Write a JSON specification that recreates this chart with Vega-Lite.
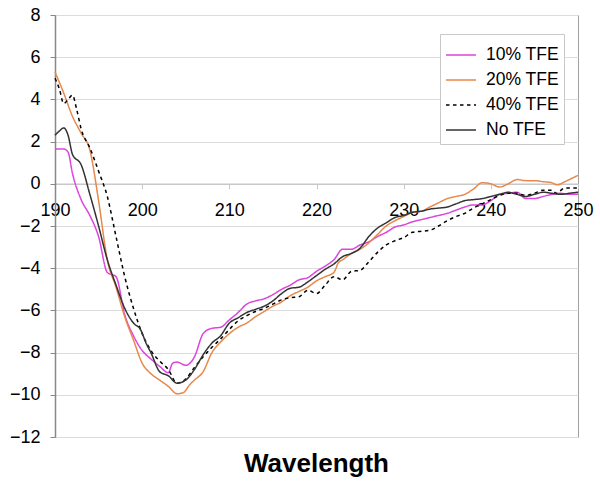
{
  "$schema": "https://vega.github.io/schema/vega-lite/v6.json",
  "width": 523,
  "height": 422,
  "autosize": {"type": "none"},
  "padding": {"left": 55, "top": 15, "right": 22, "bottom": 46},
  "background": "white",
  "config": {
    "font": "Liberation Sans",
    "view": {"stroke": "#a0a0a0", "strokeWidth": 1}
  },
  "title": {"text": "Wavelength", "orient": "bottom", "anchor": "middle", "fontSize": 26, "fontWeight": "bold", "color": "black", "offset": 5, "font": "Liberation Sans"},
  "datasets": {
    "d": [
      {"series": "10% TFE", "w": 190, "v": 1.65}, {"series": "10% TFE", "w": 191, "v": 1.65}, {"series": "10% TFE", "w": 191.5, "v": 1.5}, {"series": "10% TFE", "w": 192, "v": 0.5}, {"series": "10% TFE", "w": 193, "v": -0.75}, {"series": "10% TFE", "w": 194, "v": -1.5}, {"series": "10% TFE", "w": 195, "v": -2.5}, {"series": "10% TFE", "w": 196, "v": -4.2}, {"series": "10% TFE", "w": 197, "v": -4.4}, {"series": "10% TFE", "w": 198, "v": -6.2}, {"series": "10% TFE", "w": 199, "v": -7.2}, {"series": "10% TFE", "w": 200, "v": -7.9}, {"series": "10% TFE", "w": 201, "v": -8.3}, {"series": "10% TFE", "w": 202, "v": -8.65}, {"series": "10% TFE", "w": 203, "v": -8.95}, {"series": "10% TFE", "w": 203.5, "v": -8.5}, {"series": "10% TFE", "w": 204, "v": -8.45}, {"series": "10% TFE", "w": 205, "v": -8.6}, {"series": "10% TFE", "w": 206, "v": -8.2}, {"series": "10% TFE", "w": 207, "v": -7.1}, {"series": "10% TFE", "w": 208, "v": -6.85}, {"series": "10% TFE", "w": 209, "v": -6.8}, {"series": "10% TFE", "w": 210, "v": -6.45}, {"series": "10% TFE", "w": 211, "v": -6.1}, {"series": "10% TFE", "w": 212, "v": -5.7}, {"series": "10% TFE", "w": 213, "v": -5.55}, {"series": "10% TFE", "w": 214, "v": -5.45}, {"series": "10% TFE", "w": 215, "v": -5.25}, {"series": "10% TFE", "w": 216, "v": -5.0}, {"series": "10% TFE", "w": 217, "v": -4.8}, {"series": "10% TFE", "w": 218, "v": -4.55}, {"series": "10% TFE", "w": 219, "v": -4.45}, {"series": "10% TFE", "w": 220, "v": -4.15}, {"series": "10% TFE", "w": 221, "v": -3.9}, {"series": "10% TFE", "w": 222, "v": -3.6}, {"series": "10% TFE", "w": 223, "v": -3.1}, {"series": "10% TFE", "w": 224, "v": -3.1}, {"series": "10% TFE", "w": 225, "v": -2.9}, {"series": "10% TFE", "w": 226, "v": -2.75}, {"series": "10% TFE", "w": 227, "v": -2.5}, {"series": "10% TFE", "w": 228, "v": -2.3}, {"series": "10% TFE", "w": 229, "v": -2.05}, {"series": "10% TFE", "w": 230, "v": -1.95}, {"series": "10% TFE", "w": 231, "v": -1.8}, {"series": "10% TFE", "w": 232, "v": -1.7}, {"series": "10% TFE", "w": 233, "v": -1.6}, {"series": "10% TFE", "w": 234, "v": -1.5}, {"series": "10% TFE", "w": 235, "v": -1.4}, {"series": "10% TFE", "w": 236, "v": -1.25}, {"series": "10% TFE", "w": 237, "v": -1.1}, {"series": "10% TFE", "w": 238, "v": -1.0}, {"series": "10% TFE", "w": 239, "v": -1.0}, {"series": "10% TFE", "w": 240, "v": -0.8}, {"series": "10% TFE", "w": 241, "v": -0.5}, {"series": "10% TFE", "w": 242, "v": -0.45}, {"series": "10% TFE", "w": 243, "v": -0.4}, {"series": "10% TFE", "w": 244, "v": -0.7}, {"series": "10% TFE", "w": 245, "v": -0.7}, {"series": "10% TFE", "w": 246, "v": -0.6}, {"series": "10% TFE", "w": 247, "v": -0.5}, {"series": "10% TFE", "w": 248, "v": -0.45}, {"series": "10% TFE", "w": 249, "v": -0.5}, {"series": "10% TFE", "w": 250, "v": -0.5},

      {"series": "20% TFE", "w": 190, "v": 5.3}, {"series": "20% TFE", "w": 191, "v": 4.3}, {"series": "20% TFE", "w": 192, "v": 3.2}, {"series": "20% TFE", "w": 193, "v": 2.4}, {"series": "20% TFE", "w": 194, "v": 1.6}, {"series": "20% TFE", "w": 195, "v": -0.8}, {"series": "20% TFE", "w": 196, "v": -3.6}, {"series": "20% TFE", "w": 197, "v": -4.9}, {"series": "20% TFE", "w": 198, "v": -6.3}, {"series": "20% TFE", "w": 199, "v": -7.4}, {"series": "20% TFE", "w": 200, "v": -8.5}, {"series": "20% TFE", "w": 201, "v": -9.0}, {"series": "20% TFE", "w": 202, "v": -9.3}, {"series": "20% TFE", "w": 203, "v": -9.6}, {"series": "20% TFE", "w": 204, "v": -9.95}, {"series": "20% TFE", "w": 204.7, "v": -9.9}, {"series": "20% TFE", "w": 205.5, "v": -9.5}, {"series": "20% TFE", "w": 206, "v": -9.3}, {"series": "20% TFE", "w": 207, "v": -8.9}, {"series": "20% TFE", "w": 208, "v": -8.0}, {"series": "20% TFE", "w": 209, "v": -7.5}, {"series": "20% TFE", "w": 210, "v": -7.1}, {"series": "20% TFE", "w": 211, "v": -6.8}, {"series": "20% TFE", "w": 212, "v": -6.6}, {"series": "20% TFE", "w": 213, "v": -6.3}, {"series": "20% TFE", "w": 214, "v": -6.05}, {"series": "20% TFE", "w": 215, "v": -5.8}, {"series": "20% TFE", "w": 216, "v": -5.6}, {"series": "20% TFE", "w": 217, "v": -5.3}, {"series": "20% TFE", "w": 218, "v": -5.1}, {"series": "20% TFE", "w": 219, "v": -4.9}, {"series": "20% TFE", "w": 220, "v": -4.6}, {"series": "20% TFE", "w": 221, "v": -4.4}, {"series": "20% TFE", "w": 222, "v": -4.2}, {"series": "20% TFE", "w": 222.5, "v": -3.75}, {"series": "20% TFE", "w": 223, "v": -3.6}, {"series": "20% TFE", "w": 224, "v": -3.3}, {"series": "20% TFE", "w": 225, "v": -3.1}, {"series": "20% TFE", "w": 226, "v": -2.8}, {"series": "20% TFE", "w": 227, "v": -2.4}, {"series": "20% TFE", "w": 228, "v": -2.0}, {"series": "20% TFE", "w": 229, "v": -1.75}, {"series": "20% TFE", "w": 230, "v": -1.55}, {"series": "20% TFE", "w": 231, "v": -1.35}, {"series": "20% TFE", "w": 232, "v": -1.3}, {"series": "20% TFE", "w": 233, "v": -1.1}, {"series": "20% TFE", "w": 234, "v": -0.9}, {"series": "20% TFE", "w": 235, "v": -0.7}, {"series": "20% TFE", "w": 236, "v": -0.6}, {"series": "20% TFE", "w": 237, "v": -0.5}, {"series": "20% TFE", "w": 238, "v": -0.25}, {"series": "20% TFE", "w": 239, "v": 0.05}, {"series": "20% TFE", "w": 240, "v": 0.0}, {"series": "20% TFE", "w": 241, "v": -0.15}, {"series": "20% TFE", "w": 242, "v": 0.0}, {"series": "20% TFE", "w": 243, "v": 0.2}, {"series": "20% TFE", "w": 244, "v": 0.15}, {"series": "20% TFE", "w": 245, "v": 0.15}, {"series": "20% TFE", "w": 246, "v": 0.1}, {"series": "20% TFE", "w": 247, "v": 0.05}, {"series": "20% TFE", "w": 247.6, "v": -0.05}, {"series": "20% TFE", "w": 248.5, "v": 0.1}, {"series": "20% TFE", "w": 249, "v": 0.2}, {"series": "20% TFE", "w": 250, "v": 0.4},

      {"series": "40% TFE", "w": 190, "v": 5.0}, {"series": "40% TFE", "w": 190.5, "v": 4.5}, {"series": "40% TFE", "w": 191, "v": 3.8}, {"series": "40% TFE", "w": 191.5, "v": 4.0}, {"series": "40% TFE", "w": 192, "v": 4.2}, {"series": "40% TFE", "w": 192.5, "v": 3.5}, {"series": "40% TFE", "w": 193, "v": 2.6}, {"series": "40% TFE", "w": 194, "v": 1.7}, {"series": "40% TFE", "w": 195, "v": 0.6}, {"series": "40% TFE", "w": 196, "v": -0.6}, {"series": "40% TFE", "w": 197, "v": -2.5}, {"series": "40% TFE", "w": 198, "v": -4.4}, {"series": "40% TFE", "w": 199, "v": -5.9}, {"series": "40% TFE", "w": 200, "v": -7.1}, {"series": "40% TFE", "w": 201, "v": -7.9}, {"series": "40% TFE", "w": 202, "v": -8.4}, {"series": "40% TFE", "w": 203, "v": -8.8}, {"series": "40% TFE", "w": 204, "v": -9.45}, {"series": "40% TFE", "w": 205, "v": -9.25}, {"series": "40% TFE", "w": 206, "v": -8.7}, {"series": "40% TFE", "w": 207, "v": -8.2}, {"series": "40% TFE", "w": 208, "v": -7.75}, {"series": "40% TFE", "w": 209, "v": -7.35}, {"series": "40% TFE", "w": 210, "v": -6.9}, {"series": "40% TFE", "w": 211, "v": -6.5}, {"series": "40% TFE", "w": 212, "v": -6.25}, {"series": "40% TFE", "w": 213, "v": -6.05}, {"series": "40% TFE", "w": 214, "v": -5.9}, {"series": "40% TFE", "w": 215, "v": -5.7}, {"series": "40% TFE", "w": 216, "v": -5.5}, {"series": "40% TFE", "w": 217, "v": -5.4}, {"series": "40% TFE", "w": 218, "v": -5.35}, {"series": "40% TFE", "w": 219, "v": -5.05}, {"series": "40% TFE", "w": 220, "v": -5.2}, {"series": "40% TFE", "w": 221, "v": -4.8}, {"series": "40% TFE", "w": 222, "v": -4.4}, {"series": "40% TFE", "w": 223, "v": -4.55}, {"series": "40% TFE", "w": 224, "v": -4.15}, {"series": "40% TFE", "w": 225, "v": -4.1}, {"series": "40% TFE", "w": 226, "v": -3.7}, {"series": "40% TFE", "w": 227, "v": -3.25}, {"series": "40% TFE", "w": 228, "v": -2.9}, {"series": "40% TFE", "w": 229, "v": -2.7}, {"series": "40% TFE", "w": 230, "v": -2.55}, {"series": "40% TFE", "w": 231, "v": -2.3}, {"series": "40% TFE", "w": 232, "v": -2.25}, {"series": "40% TFE", "w": 233, "v": -2.2}, {"series": "40% TFE", "w": 234, "v": -2.0}, {"series": "40% TFE", "w": 235, "v": -1.75}, {"series": "40% TFE", "w": 236, "v": -1.55}, {"series": "40% TFE", "w": 237, "v": -1.4}, {"series": "40% TFE", "w": 238, "v": -1.15}, {"series": "40% TFE", "w": 239, "v": -0.95}, {"series": "40% TFE", "w": 240, "v": -0.75}, {"series": "40% TFE", "w": 241, "v": -0.55}, {"series": "40% TFE", "w": 242, "v": -0.45}, {"series": "40% TFE", "w": 243, "v": -0.45}, {"series": "40% TFE", "w": 244, "v": -0.55}, {"series": "40% TFE", "w": 245, "v": -0.45}, {"series": "40% TFE", "w": 246, "v": -0.3}, {"series": "40% TFE", "w": 247, "v": -0.3}, {"series": "40% TFE", "w": 247.5, "v": -0.45}, {"series": "40% TFE", "w": 248.5, "v": -0.2}, {"series": "40% TFE", "w": 250, "v": -0.2},

      {"series": "No TFE", "w": 190, "v": 2.3}, {"series": "No TFE", "w": 190.5, "v": 2.5}, {"series": "No TFE", "w": 191, "v": 2.65}, {"series": "No TFE", "w": 191.5, "v": 2.3}, {"series": "No TFE", "w": 192, "v": 1.4}, {"series": "No TFE", "w": 193, "v": 0.9}, {"series": "No TFE", "w": 194, "v": -0.5}, {"series": "No TFE", "w": 195, "v": -2.0}, {"series": "No TFE", "w": 196, "v": -3.6}, {"series": "No TFE", "w": 197, "v": -4.8}, {"series": "No TFE", "w": 198, "v": -5.9}, {"series": "No TFE", "w": 199, "v": -6.6}, {"series": "No TFE", "w": 199.8, "v": -6.9}, {"series": "No TFE", "w": 200.5, "v": -7.6}, {"series": "No TFE", "w": 201, "v": -8.0}, {"series": "No TFE", "w": 202, "v": -8.9}, {"series": "No TFE", "w": 203, "v": -9.1}, {"series": "No TFE", "w": 204, "v": -9.45}, {"series": "No TFE", "w": 205, "v": -9.3}, {"series": "No TFE", "w": 206, "v": -8.8}, {"series": "No TFE", "w": 207, "v": -8.1}, {"series": "No TFE", "w": 208, "v": -7.55}, {"series": "No TFE", "w": 209, "v": -7.2}, {"series": "No TFE", "w": 210, "v": -6.6}, {"series": "No TFE", "w": 211, "v": -6.35}, {"series": "No TFE", "w": 212, "v": -6.1}, {"series": "No TFE", "w": 213, "v": -5.95}, {"series": "No TFE", "w": 214, "v": -5.8}, {"series": "No TFE", "w": 215, "v": -5.55}, {"series": "No TFE", "w": 216, "v": -5.2}, {"series": "No TFE", "w": 217, "v": -4.95}, {"series": "No TFE", "w": 218, "v": -4.9}, {"series": "No TFE", "w": 219, "v": -4.65}, {"series": "No TFE", "w": 220, "v": -4.35}, {"series": "No TFE", "w": 221, "v": -4.05}, {"series": "No TFE", "w": 222, "v": -3.8}, {"series": "No TFE", "w": 223, "v": -3.45}, {"series": "No TFE", "w": 224, "v": -3.3}, {"series": "No TFE", "w": 225, "v": -3.05}, {"series": "No TFE", "w": 226, "v": -2.5}, {"series": "No TFE", "w": 227, "v": -2.1}, {"series": "No TFE", "w": 228, "v": -1.85}, {"series": "No TFE", "w": 229, "v": -1.6}, {"series": "No TFE", "w": 230, "v": -1.5}, {"series": "No TFE", "w": 231, "v": -1.35}, {"series": "No TFE", "w": 232, "v": -1.3}, {"series": "No TFE", "w": 233, "v": -1.2}, {"series": "No TFE", "w": 234, "v": -1.15}, {"series": "No TFE", "w": 235, "v": -1.1}, {"series": "No TFE", "w": 236, "v": -0.95}, {"series": "No TFE", "w": 237, "v": -0.8}, {"series": "No TFE", "w": 238, "v": -0.75}, {"series": "No TFE", "w": 239, "v": -0.7}, {"series": "No TFE", "w": 240, "v": -0.6}, {"series": "No TFE", "w": 241, "v": -0.5}, {"series": "No TFE", "w": 242, "v": -0.4}, {"series": "No TFE", "w": 243, "v": -0.5}, {"series": "No TFE", "w": 244, "v": -0.6}, {"series": "No TFE", "w": 245, "v": -0.5}, {"series": "No TFE", "w": 246, "v": -0.4}, {"series": "No TFE", "w": 247, "v": -0.45}, {"series": "No TFE", "w": 248, "v": -0.5}, {"series": "No TFE", "w": 249, "v": -0.45}, {"series": "No TFE", "w": 250, "v": -0.4}
    ]
  },
  "data": {"name": "d"},
  "mark": {"type": "line", "strokeCap": "butt", "strokeJoin": "round", "interpolate": "monotone"},
  "encoding": {
    "x": {
      "field": "w", "type": "quantitative",
      "scale": {"domain": [190, 250], "nice": false, "zero": false},
      "axis": {
        "title": null, "values": [190, 200, 210, 220, 230, 240, 250],
        "offset": -253.2, "grid": false,
        "domainColor": "#c8c8c8", "domainWidth": 1.5,
        "tickColor": "#c8c8c8", "tickSize": 5,
        "labelFontSize": 18, "labelColor": "black", "labelPadding": 13,
        "labelFont": "Liberation Sans", "labelFlush": false
      }
    },
    "y": {
      "field": "v", "type": "quantitative",
      "scale": {"domain": [-12, 8], "nice": false},
      "axis": {
        "title": null, "values": [-12, -10, -8, -6, -4, -2, 0, 2, 4, 6, 8],
        "grid": true, "gridColor": "#dcdcdc", "gridWidth": 1,
        "domainColor": "#888888", "domainWidth": 1.5,
        "tickColor": "#888888", "tickSize": 5,
        "labelFontSize": 18, "labelColor": "black", "labelPadding": 10,
        "labelFont": "Liberation Sans"
      }
    },
    "color": {
      "field": "series", "type": "nominal",
      "scale": {"domain": ["10% TFE", "20% TFE", "40% TFE", "No TFE"], "range": ["#dd44dd", "#e8884a", "#000000", "#333333"]},
      "legend": {
        "title": null, "orient": "none", "legendX": 385, "legendY": 19,
        "fillColor": "white", "strokeColor": "#c8c8c8", "padding": 5,
        "symbolType": "stroke", "symbolSize": 900, "symbolStrokeWidth": 2,
        "labelFontSize": 17.5, "labelFont": "Liberation Sans", "labelColor": "black",
        "rowPadding": 0, "labelOffset": 9
      }
    },
    "strokeDash": {
      "field": "series", "type": "nominal",
      "scale": {"domain": ["10% TFE", "20% TFE", "40% TFE", "No TFE"], "range": [[1, 0], [1, 0], [3.5, 3.5], [1, 0]]},
      "legend": null
    },
    "strokeWidth": {
      "field": "series", "type": "nominal",
      "scale": {"domain": ["10% TFE", "20% TFE", "40% TFE", "No TFE"], "range": [1.5, 1.5, 3.2, 1.3]},
      "legend": null
    }
  }
}
